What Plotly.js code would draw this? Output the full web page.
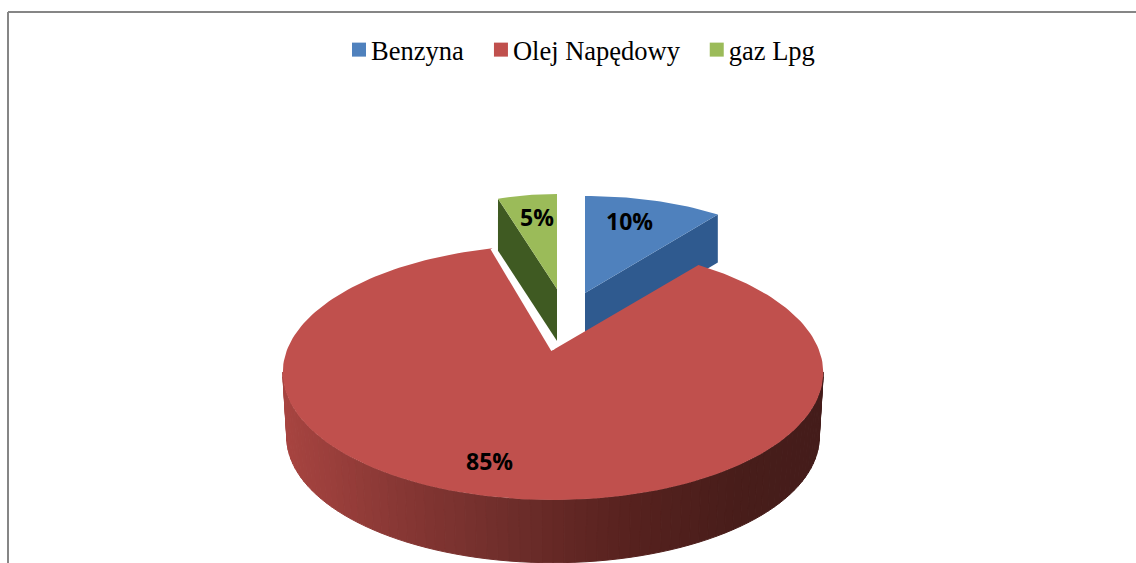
<!DOCTYPE html>
<html>
<head>
<meta charset="utf-8">
<script src="https://cdn.plot.ly/plotly-3.0.1.min.js"></script>
<style>html,body{margin:0;padding:0;background:#fff;overflow:hidden}#chart{width:1136px;height:563px}</style>
</head>
<body>
<div id="chart"></div>
<script>
// ---- data ----
const categories = ["Benzyna", "Olej Napędowy", "gaz Lpg"];
const shares = [10, 85, 5];
const topColors = ["#4f81bd", "#c0504d", "#9bbb59"];
const wallColors = ["#2f5a8f", "#7a2f2c", "#3f5a22"];

// ---- drawing parameters: projection of the tilted disc, one per slice ----
const sliceStartDeg = [0, 38.5, -18];          // where each slice begins, clockwise from 12 o'clock
const centreX = [585, 553, 557];
const centreY = [293, 350, 289];
const radiusX = [226, 266, 191];
const radiusY = [97, 123.5, 95];
const perspective = [0, 0.1765, 0];
const depth = [48, 65, 52];
const floorScale = [1, 0.985, 1];
const labelX = [629.5, 489.5, 537];
const labelY = [224, 464, 220];
const legendItemShift = [12, 16, 19];
const legendTextShift = -8;
const redWallStops = [[282, [168, 68, 64]], [400, [135, 55, 52]], [520, [108, 44, 41]], [640, [85, 33, 30]], [740, [72, 29, 26]], [823, [68, 28, 26]]];

function project(i, deg, drop, scale) {
  const a = deg * Math.PI / 180, u = Math.sin(a), v = Math.cos(a);
  const w = 1 + perspective[i] * v;
  return [centreX[i] + scale * radiusX[i] * u / w, centreY[i] + drop - scale * radiusY[i] * v / w];
}
function arc(i, from, to, drop, scale) {
  const n = Math.max(2, Math.ceil(Math.abs(to - from) / 1.5)), xs = [], ys = [];
  for (let k = 0; k <= n; k++) {
    const p = project(i, from + (to - from) * k / n, drop, scale);
    xs.push(p[0]); ys.push(p[1]);
  }
  return [xs, ys];
}
function poly(xs, ys, color, lw) {
  return {type: "scatter", mode: "lines", x: xs, y: ys, fill: "toself", fillcolor: color,
    line: {color: color, width: lw || 0}, hoverinfo: "skip", showlegend: false};
}
function redShade(x) {
  const s = redWallStops;
  for (let k = 1; k < s.length; k++) if (x <= s[k][0]) {
    const t = Math.max(0, (x - s[k - 1][0]) / (s[k][0] - s[k - 1][0]));
    const c = s[k - 1][1].map((c0, j) => Math.round(c0 + (s[k][1][j] - c0) * t));
    return `rgb(${c.join(",")})`;
  }
  return `rgb(${s[s.length - 1][1].join(",")})`;
}

const traces = [];
const span = shares.map(s => s / 100 * 360);

// back slices first: blue and green, each with its inner wall
[0, 2].forEach(i => {
  const a0 = sliceStartDeg[i], a1 = a0 + span[i];
  const d = depth[i];
  // blue shows the wall on its end edge, green the wall on its start edge
  const edge = i === 0 ? a1 : a0;
  const r = project(i, edge, 0, 1);
  traces.push(poly([centreX[i], r[0], r[0], centreX[i]],
                   [centreY[i], r[1], r[1] + d, centreY[i] + d], wallColors[i]));
  const t = arc(i, a0, a1, 0, 1);
  traces.push(poly([centreX[i]].concat(t[0], [centreX[i]]), [centreY[i]].concat(t[1], [centreY[i]]), topColors[i]));
});

// red wall in narrow strips for the left-to-right shading
const R = 1;
const leftDeg = 260, rightDeg = 100;
for (let a = leftDeg; a > rightDeg; a -= 2) {
  const p0 = project(R, a, 0, 1), p1 = project(R, a - 2, 0, 1);
  const q0 = project(R, a, depth[R], floorScale[R]), q1 = project(R, a - 2, depth[R], floorScale[R]);
  traces.push(poly([p0[0], p1[0], q1[0], q0[0], p0[0]], [p0[1], p1[1], q1[1], q0[1], p0[1]], redShade((p0[0] + p1[0]) / 2), 1));
}
// red top face, with white gap line along its left edge
const a0 = sliceStartDeg[R], a1 = a0 + span[R];
const t = arc(R, a0, a1, 0, 1);
traces.push(poly([centreX[R]].concat(t[0], [centreX[R]]), [centreY[R]].concat(t[1], [centreY[R]]), topColors[R]));
const gapEnd = project(R, a1, 0, 1);
traces.push({type: "scatter", mode: "lines", x: [centreX[R], gapEnd[0]], y: [centreY[R], gapEnd[1]],
  line: {color: "#ffffff", width: 4}, hoverinfo: "skip", showlegend: false});

// percent labels
traces.push({type: "scatter", mode: "text", x: labelX, y: labelY,
  text: shares.map(s => s + "%"), textposition: "middle center",
  textfont: {family: "Open Sans, sans-serif", size: 23, color: "#000", weight: 700},
  hoverinfo: "skip", showlegend: false});

// legend entries
categories.forEach((c, i) => traces.push({type: "scatter", mode: "markers", name: c, x: [null], y: [null],
  marker: {symbol: "square", size: 14, color: topColors[i]}, hoverinfo: "skip"}));

const layout = {
  width: 1136, height: 563,
  margin: {l: 0, r: 0, t: 0, b: 0},
  paper_bgcolor: "#fff", plot_bgcolor: "#fff",
  xaxis: {range: [0, 1136], visible: false, fixedrange: true},
  yaxis: {range: [563, 0], visible: false, fixedrange: true},
  showlegend: true,
  legend: {orientation: "h", x: 0.5, xanchor: "center", y: 0.954, yanchor: "top",
    font: {family: "Liberation Serif, serif", size: 26.5, color: "#000"},
    traceorder: "normal", bgcolor: "rgba(0,0,0,0)", itemclick: false, itemdoubleclick: false},
  shapes: [
    {type: "line", xref: "x", yref: "y", x0: 8, x1: 1136, y0: 12, y1: 12, line: {color: "#868686", width: 2}},
    {type: "line", xref: "x", yref: "y", x0: 8, x1: 8, y0: 12, y1: 563, line: {color: "#868686", width: 2}}
  ]
};
Plotly.newPlot("chart", traces, layout, {displayModeBar: false, staticPlot: true}).then(() => {
  // tighten the legend's marker-to-text gap and item spacing, which Plotly has no option for
  const legend = document.querySelector("#chart .legend");
  legend.querySelectorAll("[clip-path]").forEach(el => el.removeAttribute("clip-path"));
  legend.querySelectorAll(".traces").forEach((item, i) => {
    const m = /translate\(([-\d.]+),\s*([-\d.]+)\)/.exec(item.getAttribute("transform"));
    item.setAttribute("transform", `translate(${parseFloat(m[1]) + legendItemShift[i]},${m[2]})`);
    const text = item.querySelector(".legendtext");
    text.setAttribute("x", parseFloat(text.getAttribute("x")) + legendTextShift);
  });
});
</script>
</body>
</html>
